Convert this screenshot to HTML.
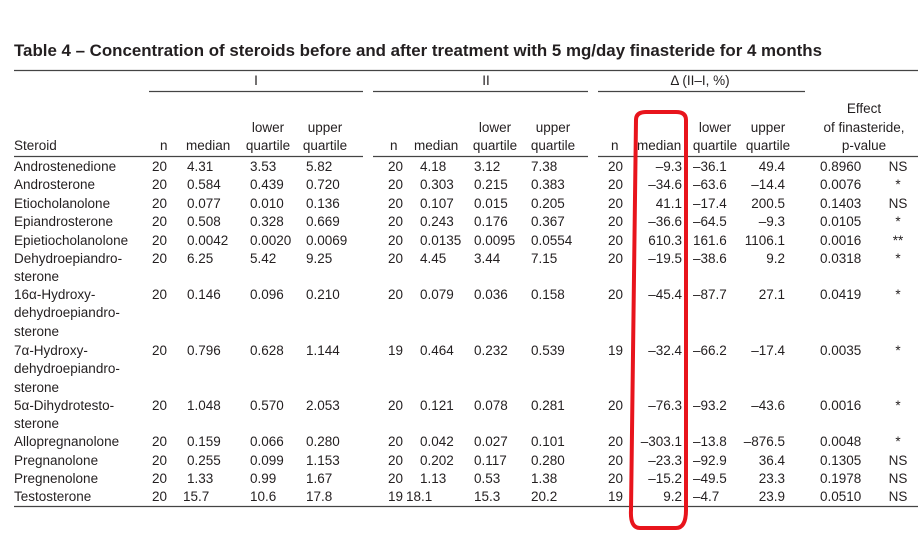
<!DOCTYPE html>
<html><head><meta charset="utf-8"><style>
html,body{margin:0;padding:0;background:#fff;}
svg{display:block;font-family:"Liberation Sans",sans-serif;}
text{fill:#231f20;font-size:13.5px;}
.t{font-weight:bold;font-size:17px;}
.c{text-anchor:middle;}
</style></head><body>
<svg width="924" height="536" viewBox="0 0 924 536">
<text class="t" x="14" y="56" textLength="808" lengthAdjust="spacingAndGlyphs">Table 4 – Concentration of steroids before and after treatment with 5 mg/day finasteride for 4 months</text>
<g stroke="#444" stroke-width="1.3">
<line x1="14" y1="70.5" x2="918" y2="70.5"/>
<line x1="149" y1="91.5" x2="363" y2="91.5"/>
<line x1="373" y1="91.5" x2="588" y2="91.5"/>
<line x1="598" y1="91.5" x2="805" y2="91.5"/>
<line x1="14" y1="156.5" x2="363" y2="156.5"/>
<line x1="373" y1="156.5" x2="588" y2="156.5"/>
<line x1="598" y1="156.5" x2="918" y2="156.5"/>
<line x1="14" y1="506.5" x2="918" y2="506.5"/>
</g>
<text class="c" x="256" y="85">I</text>
<text class="c" x="486" y="85">II</text>
<text class="c" x="700" y="85">Δ (II–I, %)</text>
<text x="14" y="150">Steroid</text>
<text x="160" y="150">n</text><text x="186" y="150">median</text>
<text class="c" x="268" y="132">lower</text><text class="c" x="268" y="150">quartile</text>
<text class="c" x="325" y="132">upper</text><text class="c" x="325" y="150">quartile</text>
<text x="390" y="150">n</text><text x="414" y="150">median</text>
<text class="c" x="495" y="132">lower</text><text class="c" x="495" y="150">quartile</text>
<text class="c" x="553" y="132">upper</text><text class="c" x="553" y="150">quartile</text>
<text x="611" y="150">n</text><text x="637" y="150">median</text>
<text class="c" x="715" y="132">lower</text><text class="c" x="715" y="150">quartile</text>
<text class="c" x="768" y="132">upper</text><text class="c" x="768" y="150">quartile</text>
<text class="c" x="864" y="113">Effect</text>
<text class="c" x="864" y="132">of finasteride,</text>
<text class="c" x="864" y="150">p-value</text>
<g id="rows"></g>
<path d="M636 120 Q636 112 646 112 L676 112 Q686 112 686 120 L686 510 Q686 528 676 528 L640 528 Q630 528 631 510 Z" fill="none" stroke="#e8141c" stroke-width="4"/>
</svg>
<script>
var B=[171,189,208,226,245,263,281,299,317,336,355,373,392,410,428,446,465,483,501];
var D=[
[0,["Androstenedione"],"20","4.31","3.53","5.82","20","4.18","3.12","7.38","20","–9.3","–36.1","49.4","0.8960","NS"],
[1,["Androsterone"],"20","0.584","0.439","0.720","20","0.303","0.215","0.383","20","–34.6","–63.6","–14.4","0.0076","*"],
[2,["Etiocholanolone"],"20","0.077","0.010","0.136","20","0.107","0.015","0.205","20","41.1","–17.4","200.5","0.1403","NS"],
[3,["Epiandrosterone"],"20","0.508","0.328","0.669","20","0.243","0.176","0.367","20","–36.6","–64.5","–9.3","0.0105","*"],
[4,["Epietiocholanolone"],"20","0.0042","0.0020","0.0069","20","0.0135","0.0095","0.0554","20","610.3","161.6","1106.1","0.0016","**"],
[5,["Dehydroepiandro-","sterone"],"20","6.25","5.42","9.25","20","4.45","3.44","7.15","20","–19.5","–38.6","9.2","0.0318","*"],
[7,["16α-Hydroxy-","dehydroepiandro-","sterone"],"20","0.146","0.096","0.210","20","0.079","0.036","0.158","20","–45.4","–87.7","27.1","0.0419","*"],
[10,["7α-Hydroxy-","dehydroepiandro-","sterone"],"20","0.796","0.628","1.144","19","0.464","0.232","0.539","19","–32.4","–66.2","–17.4","0.0035","*"],
[13,["5α-Dihydrotesto-","sterone"],"20","1.048","0.570","2.053","20","0.121","0.078","0.281","20","–76.3","–93.2","–43.6","0.0016","*"],
[15,["Allopregnanolone"],"20","0.159","0.066","0.280","20","0.042","0.027","0.101","20","–303.1","–13.8","–876.5","0.0048","*"],
[16,["Pregnanolone"],"20","0.255","0.099","1.153","20","0.202","0.117","0.280","20","–23.3","–92.9","36.4","0.1305","NS"],
[17,["Pregnenolone"],"20","1.33","0.99","1.67","20","1.13","0.53","1.38","20","–15.2","–49.5","23.3","0.1978","NS"],
[18,["Testosterone"],"20","15.7","10.6","17.8","19","18.1","15.3","20.2","19","9.2","–4.7","23.9","0.0510","NS"]];
var X=[[152,'s'],[187,'s'],[250,'s'],[306,'s'],[388,'s'],[420,'s'],[474,'s'],[531,'s'],[623,'e'],[682,'e'],[693,'s'],[785,'e'],[820,'s'],[898,'m']];
var g=document.getElementById('rows'),h='';
D.forEach(function(r){var y=B[r[0]];r[1].forEach(function(s,i){h+='<text x="14" y="'+B[r[0]+i]+'">'+s+'</text>';});
for(var i=0;i<14;i++){var v=r[i+2],x=X[i][0],a=X[i][1];
if(i==1&&v.length==4&&v.indexOf('.')==2)x-=4;
if(i==5&&v.length==4&&v.indexOf('.')==2)x-=14;
h+='<text x="'+x+'" y="'+y+'" text-anchor="'+(a=='s'?'start':a=='e'?'end':'middle')+'">'+v+'</text>';}});
g.innerHTML=h;
</script>
</body></html>
